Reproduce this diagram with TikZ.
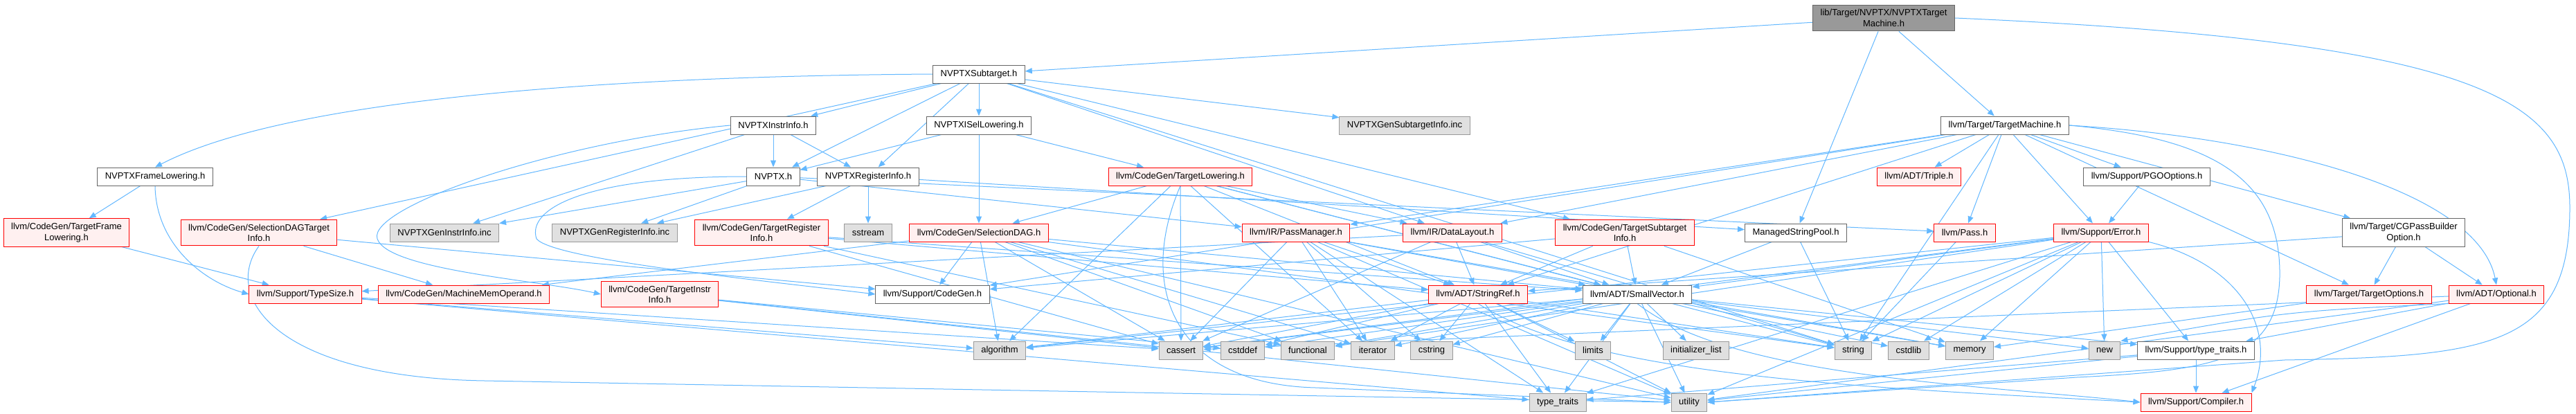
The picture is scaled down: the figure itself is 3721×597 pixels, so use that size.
\documentclass[tikz,border=0pt]{standalone}
\usepackage{fontspec}
\setmainfont{Liberation Sans}
\usepackage{tikz}
\usetikzlibrary{arrows.meta,backgrounds}
\definecolor{arista}{RGB}{99,184,255}
\definecolor{bordegris}{RGB}{102,102,102}
\definecolor{bordeclaro}{RGB}{153,153,153}
\definecolor{rellenogris}{RGB}{224,224,224}
\definecolor{rellenoraiz}{RGB}{153,153,153}
\definecolor{rellenorojo}{RGB}{255,240,240}
\definecolor{borderojo}{RGB}{255,0,0}

\begin{document}
\begin{tikzpicture}[
  x=1pt, y=-1pt,
  font=\fontsize{13}{15.3}\selectfont,
  archivo/.style={draw=bordegris, fill=white, line width=1pt,
                  minimum height=26pt, inner xsep=11pt, inner ysep=6.5pt,
                  align=center},
  raiz/.style={archivo, fill=rellenoraiz},
  truncado/.style={archivo, draw=borderojo, fill=rellenorojo},
  sistema/.style={archivo, draw=bordeclaro, fill=rellenogris},
  enlace/.style={draw=arista, line width=1pt,
                 -{Triangle[length=10pt,width=8pt]}},
]
\useasboundingbox (0,0) rectangle (3721,597);
% ---- Raiz ----------------------------------------------------------------
\node[raiz] (tm) at (2721,26) {lib/Target/NVPTX/NVPTXTarget\\Machine.h};
% ---- Fila 2 y 3 ------------------------------------------------------------
\node[archivo] (sub) at (1414,107) {NVPTXSubtarget.h};
\node[archivo] (instr) at (1117,181) {NVPTXInstrInfo.h};
\node[archivo] (isel) at (1414,181) {NVPTXISelLowering.h};
\node[sistema] (gensub) at (2029,181) {NVPTXGenSubtargetInfo.inc};
\node[archivo] (tmach) at (2896,181) {llvm/Target/TargetMachine.h};
% ---- Fila 4 ----------------------------------------------------------------
\node[archivo] (frame) at (224,255) {NVPTXFrameLowering.h};
\node[archivo] (nvptx) at (1117,255) {NVPTX.h};
\node[archivo] (reg) at (1254,255) {NVPTXRegisterInfo.h};
\node[truncado] (tlow) at (1705,255) {llvm/CodeGen/TargetLowering.h};
\node[truncado] (triple) at (2772,255) {llvm/ADT/Triple.h};
\node[archivo] (pgo) at (3101,255) {llvm/Support/PGOOptions.h};
% ---- Fila 5 ----------------------------------------------------------------
\node[truncado] (tframe) at (96,336) {llvm/CodeGen/TargetFrame\\Lowering.h};
\node[truncado] (sdagti) at (374,336) {llvm/CodeGen/SelectionDAGTarget\\Info.h};
\node[sistema] (geninstr) at (642,336) {NVPTXGenInstrInfo.inc};
\node[sistema] (genreg) at (888,336) {NVPTXGenRegisterInfo.inc};
\node[truncado] (treg) at (1100,336) {llvm/CodeGen/TargetRegister\\Info.h};
\node[sistema] (sstream) at (1254,336) {sstream};
\node[truncado] (sdag) at (1414,336) {llvm/CodeGen/SelectionDAG.h};
\node[truncado] (passmgr) at (1872,336) {llvm/IR/PassManager.h};
\node[truncado] (dlayout) at (2098,336) {llvm/IR/DataLayout.h};
\node[truncado] (tsub) at (2347,336) {llvm/CodeGen/TargetSubtarget\\Info.h};
\node[archivo] (msp) at (2594,336) {ManagedStringPool.h};
\node[truncado] (pass) at (2838,336) {llvm/Pass.h};
\node[truncado] (error) at (3035,336) {llvm/Support/Error.h};
\node[archivo] (cgpb) at (3472,336) {llvm/Target/CGPassBuilder\\Option.h};
% ---- Fila 6 ----------------------------------------------------------------
\node[truncado] (tsize) at (441,425) {llvm/Support/TypeSize.h};
\node[truncado] (mmo) at (670,425) {llvm/CodeGen/MachineMemOperand.h};
\node[truncado] (tinstr) at (953,425) {llvm/CodeGen/TargetInstr\\Info.h};
\node[archivo] (cgen) at (1347,425) {llvm/Support/CodeGen.h};
\node[truncado] (sref) at (2135,425) {llvm/ADT/StringRef.h};
\node[archivo] (svec) at (2365,425) {llvm/ADT/SmallVector.h};
\node[truncado] (topt) at (3422,425) {llvm/Target/TargetOptions.h};
\node[truncado] (optional) at (3606,425) {llvm/ADT/Optional.h};
% ---- Cabeceras del sistema ---------------------------------------------------
\foreach \n/\t/\x in {algorithm/algorithm/1444, cassert/cassert/1706,
    cstddef/cstddef/1795, functional/functional/1889, iterator/iterator/1983,
    cstring/cstring/2068, limits/limits/2301,
    initlist/initializer\_list/2450, string/string/2677,
    cstdlib/cstdlib/2757, memory/memory/2845, new/new/3040} {
  \node[sistema] (\n) at (\x,506) {\t};
}
\node[archivo] (ttraits) at (3172,506) {llvm/Support/type\_traits.h};
\node[sistema] (typetraits) at (2250,581) {type\_traits};
\node[sistema] (utility) at (2440,581) {utility};
\node[truncado] (compiler) at (3172,581) {llvm/Support/Compiler.h};
% ---- Aristas -----------------------------------------------------------------
\begin{scope}[on background layer]
\fill[white] (0,0) rectangle (3721,597);
\foreach \a/\b in {tm/sub, tm/msp, tm/tmach,
    sub/instr, sub/isel, sub/nvptx, sub/reg, sub/sdagti, sub/gensub,
    sub/dlayout, sub/tsub, sub/string,
    instr/nvptx, instr/reg, instr/geninstr,
    isel/nvptx, isel/sdag, isel/tlow,
    nvptx/geninstr, nvptx/genreg, nvptx/passmgr, nvptx/pass,
    reg/treg, reg/sstream, reg/genreg, reg/msp,
    frame/tframe, tframe/tsize, sdagti/mmo, sdagti/cgen,
    tlow/sdag, tlow/algorithm, tlow/cassert, tlow/iterator, tlow/dlayout,
    tlow/sref, tlow/svec, tlow/string,
    tmach/triple, tmach/pass, tmach/error, tmach/pgo, tmach/cgpb, tmach/topt,
    tmach/cgen, tmach/dlayout, tmach/passmgr, tmach/sref, tmach/string,
    pgo/error,
    treg/sref, treg/svec, treg/cassert, treg/functional,
    sdag/mmo, sdag/cgen, sdag/svec, sdag/algorithm, sdag/cassert,
    sdag/functional, sdag/iterator, sdag/string, sdag/utility,
    passmgr/svec, passmgr/sref, passmgr/cassert, passmgr/cstring,
    passmgr/iterator, passmgr/memory, passmgr/typetraits, passmgr/utility,
    dlayout/sref, dlayout/svec, dlayout/tsize, dlayout/cassert, dlayout/string,
    tsub/sref, tsub/svec, tsub/cgen, tsub/memory,
    msp/svec, msp/string, pass/string,
    error/svec, error/ttraits, error/algorithm, error/cassert, error/cstdlib,
    error/functional, error/memory, error/new, error/string,
    error/typetraits, error/utility,
    cgpb/topt, cgpb/optional, cgpb/sref,
    tsize/algorithm, tsize/cassert, tsize/typetraits,
    tinstr/cassert, tinstr/cstddef, tinstr/utility,
    sref/algorithm, sref/cassert, sref/cstddef, sref/cstring, sref/iterator,
    sref/limits, sref/string, sref/typetraits, sref/utility,
    svec/ttraits, svec/algorithm, svec/cassert, svec/cstddef, svec/cstdlib,
    svec/cstring, svec/functional, svec/initlist, svec/iterator, svec/limits,
    svec/memory, svec/new, svec/typetraits, svec/utility,
    topt/memory,
    optional/compiler, optional/ttraits, optional/cassert, optional/utility,
    ttraits/compiler, ttraits/typetraits, ttraits/utility} {
  \draw[enlace] (\a) -- (\b);
}
% curvas largas
\draw[enlace] (tm.east) .. controls (3600,60) and (3712,150) .. (3712,300)
  .. controls (3712,500) and (3600,515) .. (3300,520) -- (utility.east);
\draw[enlace] (sub.west) .. controls (900,110) and (420,140) .. (frame.north);
\draw[enlace] (instr.west) .. controls (800,205) and (530,300) .. (545,345)
  .. controls (560,390) and (780,405) .. (tinstr.west);
\draw[enlace] (nvptx.west) .. controls (850,255) and (760,300) .. (775,345)
  .. controls (800,375) and (1100,405) .. (cgen.west);
\draw[enlace] (frame.south) .. controls (225,350) and (290,405) .. (tsize.west);
\draw[enlace] (sdagti.south) .. controls (320,430) and (400,545) .. (700,550)
  -- (utility.west);
\draw[enlace] (tmach.east) .. controls (3200,200) and (3295,260) .. (3293,400)
  .. controls (3290,520) and (3200,535) .. (3000,545) -- (utility.east);
\draw[enlace] (tmach.east) .. controls (3300,200) and (3580,280) .. (optional.north);
\draw[enlace] (error.south east) .. controls (3230,380) and (3290,470)
  .. (compiler.north east);
\draw[enlace] (tlow.south) .. controls (1640,420) and (1700,555) .. (1900,560)
  -- (utility.west);
\draw[enlace] (sref.south) .. controls (2300,545) and (2700,560) .. (compiler.west);
\draw[enlace] (svec.south) .. controls (2500,545) and (2850,555) .. (compiler.west);
\draw[enlace] (optional.south west) .. controls (3300,450) .. (new.north east);
\end{scope}
\end{tikzpicture}
\end{document}
